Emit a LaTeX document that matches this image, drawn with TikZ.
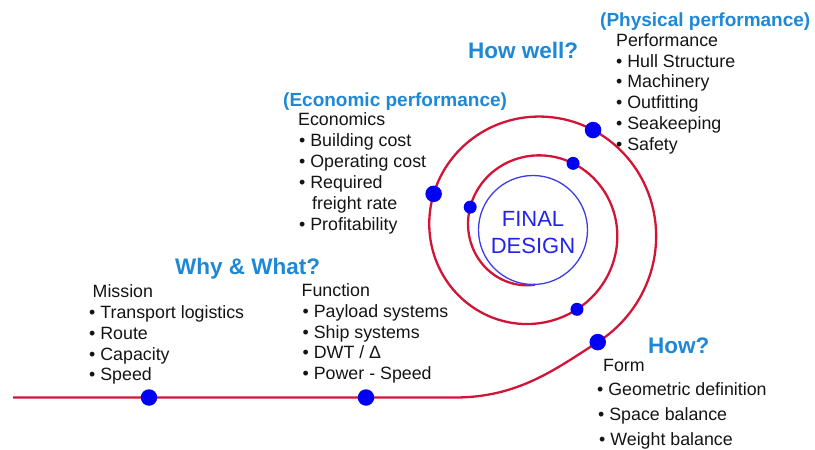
\documentclass[tikz,border=0pt]{standalone}
\usepackage{fontspec}
\setmainfont{Liberation Sans}
\definecolor{trackred}{RGB}{210,20,55}
\definecolor{dotblue}{RGB}{0,0,245}
\definecolor{ringblue}{RGB}{60,60,235}
\definecolor{finalblue}{RGB}{35,35,235}
\definecolor{headblue}{RGB}{30,136,214}
\definecolor{txt}{RGB}{20,20,20}
\begin{document}
\begin{tikzpicture}[x=1pt,y=-1pt,
  body/.style={font=\fontsize{17.8}{21}\selectfont, text=txt, inner sep=0pt, anchor=base west},
  qhead/.style={font=\fontsize{22.5}{27}\selectfont\bfseries, text=headblue, inner sep=0pt, anchor=base west},
  phead/.style={font=\fontsize{19}{23}\selectfont\bfseries, text=headblue, inner sep=0pt, anchor=base west},
  bigdot/.style={circle, fill=dotblue, inner sep=0pt, minimum size=16.5pt},
  smalldot/.style={circle, fill=dotblue, inner sep=0pt, minimum size=13pt},
  track/.style={draw=trackred, line width=2.3pt},
  ring/.style={circle, draw=ringblue, line width=1.3pt, inner sep=0pt, minimum size=109pt},
  finaltext/.style={font=\fontsize{22}{27.5}\selectfont, text=finalblue, align=center, inner sep=0pt}
]
\useasboundingbox (0,0) rectangle (815,450);

% design spiral
\coordinate (lstart) at (13,397.5);
\coordinate (lbend) at (455,397.5);
\coordinate (sstart) at ({533+129.48*cos(-60)},{230-129.48*sin(-60)});
\draw[track] (lstart) -- (lbend) .. controls (518,397.5) and (555.7,369.1) .. (sstart)
  -- plot[domain=-60:632,samples=260,smooth] ({533+(123-0.108*\x)*cos(\x)},{230-(123-0.108*\x)*sin(\x)});

% final design
\node[ring] (final) at (533,230) {};
\node[finaltext] (finaltxt) at (533,232.6) {FINAL\\DESIGN};

% dots
\node[bigdot] (dmission) at (149,397.5) {};
\node[bigdot] (dfunction) at (366,397.5) {};
\node[bigdot] (dform) at (sstart) {};
\node[bigdot] (dperf) at ({533+(123-0.108*59)*cos(59)},{230-(123-0.108*59)*sin(59)}) {};
\node[bigdot] (decon) at ({533+(123-0.108*160)*cos(160)},{230-(123-0.108*160)*sin(160)}) {};
\node[smalldot] (dform2) at ({533+(123-0.108*299)*cos(299)},{230-(123-0.108*299)*sin(299)}) {};
\node[smalldot] (dperf2) at ({533+(123-0.108*419)*cos(419)},{230-(123-0.108*419)*sin(419)}) {};
\node[smalldot] (decon2) at ({533+(123-0.108*520)*cos(520)},{230-(123-0.108*520)*sin(520)}) {};

% headings
\node[qhead] (whywhat) at (175,274) {Why \& What?};
\node[qhead] (howwell) at (468,58) {How well?};
\node[qhead] (how) at (648,353) {How?};
\node[phead] (econhead) at (283,106) {(Economic performance)};
\node[phead] (physhead) at (600,26) {(Physical performance)};

% mission
\node[body] (mis) at (92.5,297) {Mission};
\node[body] (mis1) at (89,318.7) {• Transport logistics};
\node[body] (mis2) at (89,339.5) {• Route};
\node[body] (mis3) at (89,360.2) {• Capacity};
\node[body] (mis4) at (89,380.8) {• Speed};

% function
\node[body] (fun) at (301.5,296) {Function};
\node[body] (fun1) at (302.5,317) {• Payload systems};
\node[body] (fun2) at (302.5,338) {• Ship systems};
\node[body] (fun3) at (302.5,358.5) {• DWT / Δ};
\node[body] (fun4) at (302.5,379) {• Power - Speed};

% economics
\node[body] (eco) at (298,125.7) {Economics};
\node[body] (eco1) at (299,146.7) {• Building cost};
\node[body] (eco2) at (299,167.3) {• Operating cost};
\node[body] (eco3) at (299,188.7) {• Required};
\node[body] (eco3b) at (312,209) {freight rate};
\node[body] (eco4) at (299,230) {• Profitability};

% performance
\node[body] (per) at (616,46.7) {Performance};
\node[body] (per1) at (616,67.7) {• Hull Structure};
\node[body] (per2) at (616,87.7) {• Machinery};
\node[body] (per3) at (616,108.3) {• Outfitting};
\node[body] (per4) at (616,129) {• Seakeeping};
\node[body] (per5) at (616,150) {• Safety};

% form
\node[body] (form) at (603,371.7) {Form};
\node[body] (form1) at (597,395.7) {• Geometric definition};
\node[body] (form2) at (598,420) {• Space balance};
\node[body] (form3) at (599,445) {• Weight balance};
\end{tikzpicture}
\end{document}
